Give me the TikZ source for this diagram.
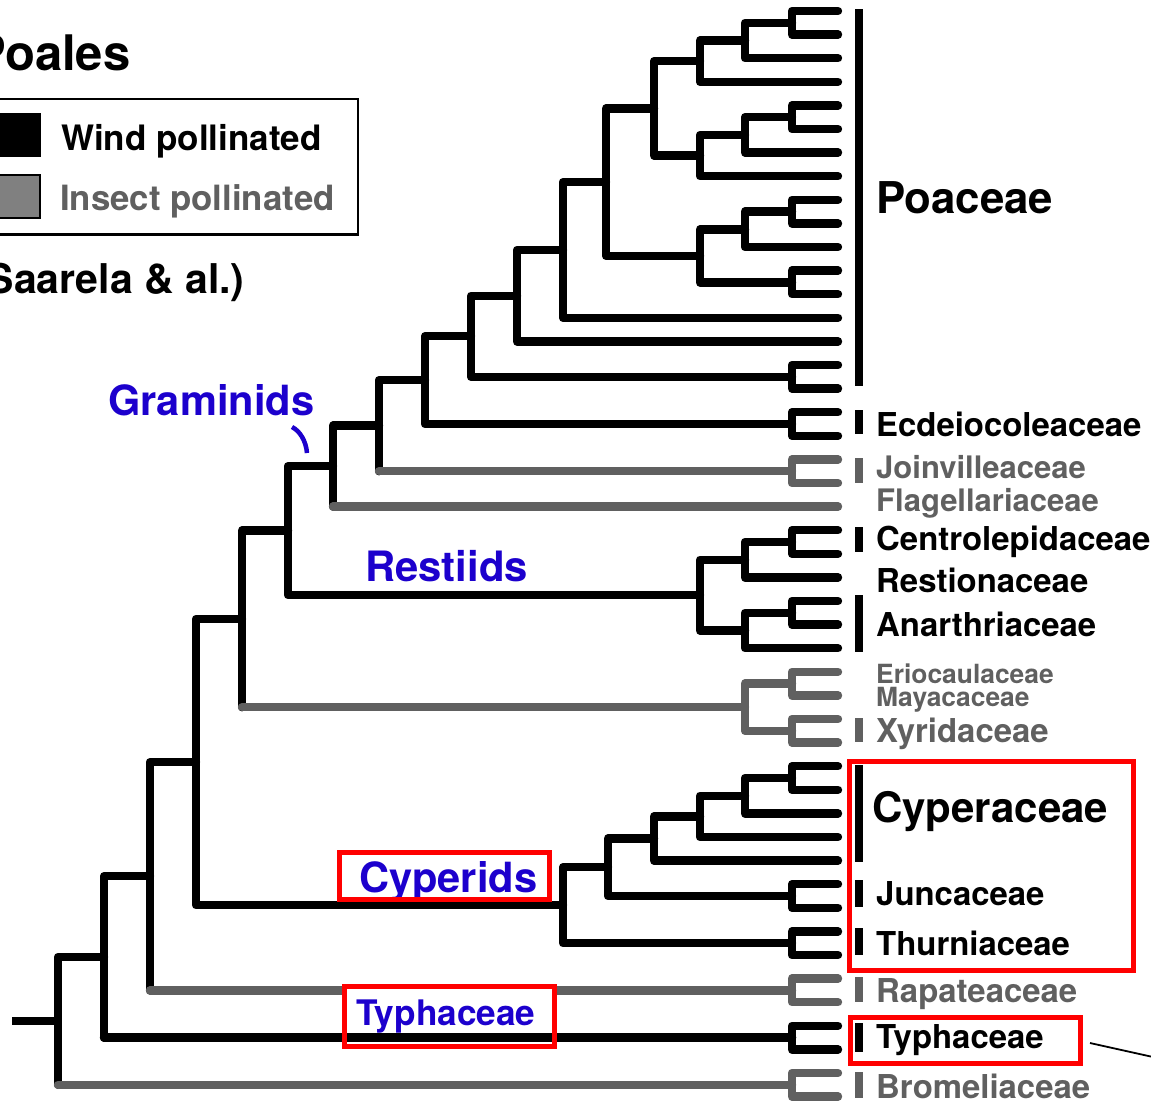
\documentclass[tikz,border=0pt]{standalone}
\usepackage{fontspec}
\setmainfont{TeX Gyre Heros}
\definecolor{treegray}{RGB}{96,96,96}
\definecolor{keygray}{RGB}{128,128,128}
\definecolor{cladeblue}{RGB}{28,0,205}
\tikzset{
  br/.style={line width=8.4pt, line cap=round, line join=round, draw=black},
  gbr/.style={br, draw=treegray},
  taxon/.style={anchor=base west, inner sep=0pt, font=\bfseries\fontsize{32.9}{38}\selectfont},
  gtaxon/.style={taxon, text=treegray},
  cladelab/.style={anchor=base west, inner sep=0pt, text=cladeblue},
  redbox/.style={draw=red, line width=5pt},
  barblack/.style={fill=black},
  bargray/.style={fill=treegray},
}
\newcommand\bre[2]{\draw[br] (#1) |- (#2);}
\newcommand\gre[2]{\draw[gbr] (#1) |- (#2);}
\newcommand\mre[2]{\draw[br] (#1) -- (#1 |- #2); \draw[gbr] (#1 |- #2) -- (#2);}
\begin{document}
\begin{tikzpicture}[x=1pt,y=-1pt]
\useasboundingbox (0,0) rectangle (1151,1101);
\clip (0,0) rectangle (1151,1101);
\fill[white] (0,0) rectangle (1151,1101);

% tips
\foreach \i in {1,...,47} {\coordinate (t\i) at (838,{11+23.6*(\i-1)});}
% internal nodes
\coordinate (n1) at (792,22.8);
\coordinate (n2) at (745,40.5);
\coordinate (n3) at (700,61.15);
\coordinate (n4) at (792,117.2);
\coordinate (n5) at (745,134.9);
\coordinate (n6) at (700,155.55);
\coordinate (n7) at (654,108.35);
\coordinate (n8) at (792,211.6);
\coordinate (n9) at (745,229.3);
\coordinate (n10) at (792,282.4);
\coordinate (n11) at (700,255.85);
\coordinate (n12) at (606,182.1);
\coordinate (n13) at (563,249.95);
\coordinate (n14) at (517,295.7);
\coordinate (n15) at (792,376.8);
\coordinate (n16) at (471,336.25);
\coordinate (n17) at (792,424);
\coordinate (n18) at (425,380.1);
\coordinate (n19) at (792,471.2);
\coordinate (n20) at (379,425.65);
\coordinate (n21) at (333,466.1);
\coordinate (r1) at (792,542);
\coordinate (r2) at (745,559.7);
\coordinate (r3) at (792,612.8);
\coordinate (r4) at (745,630.5);
\coordinate (r5) at (700,595.1);
\coordinate (n22) at (288,530.6);
\coordinate (e1) at (792,683.6);
\coordinate (e2) at (792,730.8);
\coordinate (e3) at (745,707.2);
\coordinate (n23) at (242,618.9);
\coordinate (c1) at (792,778);
\coordinate (c2) at (745,795.7);
\coordinate (c3) at (700,816.35);
\coordinate (c4) at (654,838.5);
\coordinate (c5) at (792,896);
\coordinate (c6) at (608,867.25);
\coordinate (c7) at (792,943.2);
\coordinate (c8) at (563,905.2);
\coordinate (n24) at (196,762.05);
\coordinate (g1) at (792,990.4);
\coordinate (n25) at (150,876.2);
\coordinate (h1) at (792,1037.6);
\coordinate (n26) at (104,956.9);
\coordinate (b1) at (792,1084.8);
\coordinate (n27) at (58,1020.85);
\coordinate (root) at (12,1020.85);

% Poaceae
\bre{n1}{t1}\bre{n1}{t2}\bre{n2}{n1}\bre{n2}{t3}\bre{n3}{n2}\bre{n3}{t4}
\bre{n4}{t5}\bre{n4}{t6}\bre{n5}{n4}\bre{n5}{t7}\bre{n6}{n5}\bre{n6}{t8}
\bre{n7}{n3}\bre{n7}{n6}
\bre{n8}{t9}\bre{n8}{t10}\bre{n9}{n8}\bre{n9}{t11}
\bre{n10}{t12}\bre{n10}{t13}\bre{n11}{n9}\bre{n11}{n10}
\bre{n12}{n7}\bre{n12}{n11}\bre{n13}{n12}\bre{n13}{t14}
\bre{n14}{n13}\bre{n14}{t15}\bre{n15}{t16}\bre{n15}{t17}
\bre{n16}{n14}\bre{n16}{n15}
% Ecdeiocoleaceae
\bre{n17}{t18}\bre{n17}{t19}\bre{n18}{n16}\bre{n18}{n17}
% Joinvilleaceae, Flagellariaceae
\bre{n20}{n18}\mre{n20}{n19}\gre{n19}{t20}\gre{n19}{t21}
\bre{n21}{n20}\mre{n21}{t22}
% Restiids
\bre{n22}{n21}\bre{n22}{r5}\bre{r5}{r2}\bre{r5}{r4}
\bre{r2}{r1}\bre{r2}{t25}\bre{r1}{t23}\bre{r1}{t24}
\bre{r4}{r3}\bre{r4}{t28}\bre{r3}{t26}\bre{r3}{t27}
% Eriocaulaceae clade
\bre{n23}{n22}\mre{n23}{e3}\gre{e3}{e1}\gre{e3}{e2}
\gre{e1}{t29}\gre{e1}{t30}\gre{e2}{t31}\gre{e2}{t32}
% Cyperids
\bre{n24}{n23}\bre{n24}{c8}\bre{c8}{c6}\bre{c8}{c7}
\bre{c6}{c4}\bre{c6}{c5}\bre{c4}{c3}\bre{c4}{t37}
\bre{c3}{c2}\bre{c3}{t36}\bre{c2}{c1}\bre{c2}{t35}
\bre{c1}{t33}\bre{c1}{t34}\bre{c5}{t38}\bre{c5}{t39}
\bre{c7}{t40}\bre{c7}{t41}
% Rapateaceae
\bre{n25}{n24}\mre{n25}{g1}\gre{g1}{t42}\gre{g1}{t43}
% Typhaceae
\bre{n26}{n25}\bre{n26}{h1}\bre{h1}{t44}\bre{h1}{t45}
% Bromeliaceae
\bre{n27}{n26}\mre{n27}{b1}\gre{b1}{t46}\gre{b1}{t47}
\draw[line width=8.4pt, line cap=butt] (root) -- (n27);

% label boxes (white)
\fill[white] (339.5,852.5) rectangle (549.5,899.5);
\fill[white] (344.5,986.5) rectangle (554.5,1046.5);
\draw[br] (n26 |- h1) -- (h1);

% bars
\fill[barblack] (855,9) rectangle (863,386);
\fill[barblack] (855,410) rectangle (863,434);
\fill[bargray] (855,458) rectangle (863,483);
\fill[barblack] (855,527) rectangle (863,552);
\fill[barblack] (855,595) rectangle (863,652);
\fill[bargray] (855,718) rectangle (863,742);
\fill[barblack] (855,765) rectangle (863,862);
\fill[barblack] (855,880) rectangle (863,907);
\fill[barblack] (855,928) rectangle (863,955);
\fill[bargray] (855,977) rectangle (863,1002);
\fill[barblack] (855,1023) rectangle (863,1052);
\fill[bargray] (855,1072) rectangle (863,1098);

% taxon labels
\node[taxon, font=\bfseries\fontsize{43.8}{50}\selectfont] (poaceae) at (876,213) {Poaceae};
\node[taxon] (ecdeio) at (876,436) {Ecdeiocoleaceae};
\node[gtaxon, font=\bfseries\fontsize{31}{36}\selectfont] (joinv) at (876,478) {Joinvilleaceae};
\node[gtaxon, font=\bfseries\fontsize{31}{36}\selectfont] (flagel) at (876,511) {Flagellariaceae};
\node[taxon] (centro) at (876,550) {Centrolepidaceae};
\node[taxon] (restion) at (876,592) {Restionaceae};
\node[taxon] (anarth) at (876,636) {Anarthriaceae};
\node[gtaxon, font=\bfseries\fontsize{26.4}{30}\selectfont] (erioc) at (876,683) {Eriocaulaceae};
\node[gtaxon, font=\bfseries\fontsize{26.4}{30}\selectfont] (mayac) at (876,706) {Mayacaceae};
\node[gtaxon] (xyrid) at (876,742) {Xyridaceae};
\node[taxon, font=\bfseries\fontsize{42}{48}\selectfont] (cyperac) at (872,822) {Cyperaceae};
\node[taxon] (juncac) at (876,905) {Juncaceae};
\node[taxon] (thurn) at (876,955) {Thurniaceae};
\node[gtaxon] (rapat) at (876,1002) {Rapateaceae};
\node[taxon] (typhac) at (876,1048) {Typhaceae};
\node[gtaxon] (bromel) at (876,1098) {Bromeliaceae};

% clade labels
\node[cladelab, font=\bfseries\fontsize{41.6}{48}\selectfont] (gramin) at (108,415) {Graminids};
\node[cladelab, font=\bfseries\fontsize{41.8}{48}\selectfont] (restiids) at (365,581) {Restiids};
\node[cladelab, font=\bfseries\fontsize{41.6}{48}\selectfont] (cyperids) at (359,892) {Cyperids};
\node[cladelab, font=\bfseries\fontsize{35.2}{40}\selectfont] (typhlab) at (356,1025) {Typhaceae};
\draw[cladeblue, line width=4.5pt] (292,427) .. controls (300,431) and (306,441) .. (307,453);

% red boxes
\draw[redbox] (339.5,852.5) rectangle (549.5,899.5);
\draw[redbox] (344.5,986.5) rectangle (554.5,1046.5);
\draw[redbox] (849.5,761.5) rectangle (1133.5,970.5);
\node[redbox, rectangle, inner sep=0pt, minimum width=230pt, minimum height=46pt, anchor=north west] (typhbox) at (847.5,1014.5) {};
\coordinate (lnA) at (1090,1043);
\coordinate (lnB) at (1162,1059);
\draw[line width=1.8pt] (lnA) -- (lnB);

% title and legend
\node[anchor=base west, inner sep=0pt, font=\bfseries\fontsize{49}{56}\selectfont] (title) at (-27,70) {Poales};
\draw[line width=2.5pt] (-10,99) rectangle (358,234.5);
\fill[black] (-3,113) rectangle (41,157);
\filldraw[fill=keygray, draw=black, line width=1.5pt] (-3,175) rectangle (40,218);
\node[anchor=base west, inner sep=0pt, font=\bfseries\fontsize{35}{40}\selectfont] (wind) at (61,150) {Wind pollinated};
\node[anchor=base west, inner sep=0pt, text=treegray, font=\bfseries\fontsize{34.8}{40}\selectfont] (insect) at (60,210) {Insect pollinated};
\node[anchor=base west, inner sep=0pt, font=\bfseries\fontsize{41}{48}\selectfont] (source) at (-27,293) {(Saarela \& al.)};
\end{tikzpicture}
\end{document}
